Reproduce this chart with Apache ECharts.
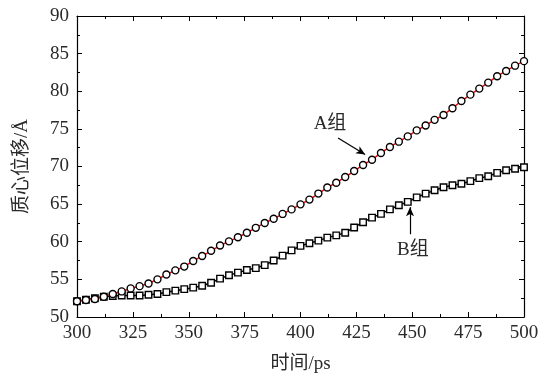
<!DOCTYPE html>
<html>
<head>
<meta charset="utf-8">
<script src="https://cdn.jsdelivr.net/npm/echarts@6/dist/echarts.min.js"></script>
<style>
  html, body { margin: 0; padding: 0; background: #fff; }
  #chart { width: 550px; height: 379px; }
</style>
</head>
<body>
<div id="chart"></div>
<script>
// time in ps, one point every 4 ps
const times = [];
for (let t = 300; t <= 500; t += 4) times.push(t);

const groupA = [
  52.1, 52.25, 52.4, 52.7, 53.05, 53.4, 53.8, 54.1, 54.45, 55.0,
  55.65, 56.2, 56.7, 57.45, 58.1, 58.8, 59.5, 60.05, 60.6, 61.2,
  61.85, 62.5, 63.05, 63.7, 64.3, 64.97, 65.6, 66.4, 67.2, 67.85,
  68.6, 69.4, 70.2, 70.9, 71.8, 72.6, 73.3, 74.0, 74.8, 75.45,
  76.2, 76.85, 77.75, 78.7, 79.55, 80.35, 81.15, 82.0, 82.7, 83.4,
  84.0
];
const groupB = [
  52.1, 52.3, 52.5, 52.7, 52.8, 52.85, 52.85, 52.85, 52.95, 53.05,
  53.3, 53.5, 53.7, 53.9, 54.15, 54.55, 55.1, 55.55, 55.9, 56.25,
  56.5, 56.9, 57.5, 58.15, 58.85, 59.45, 59.8, 60.15, 60.55, 60.85,
  61.2, 61.9, 62.6, 63.2, 63.7, 64.3, 64.85, 65.3, 65.9, 66.4,
  66.85, 67.25, 67.5, 67.7, 68.05, 68.45, 68.7, 69.15, 69.5, 69.7,
  69.9
];

const textColor = '#2a2a2a';
const fontFamily = '"Liberation Serif", "DejaVu Serif", "Noto Sans CJK SC", serif';
const fontSize = 19;

const chart = echarts.init(document.getElementById('chart'));

const frameAxis = {
  axisLine: { lineStyle: { color: '#000', width: 1.2 } },
  axisTick: { inside: true, length: 5, lineStyle: { color: '#000' } },
  minorTick: { show: true, splitNumber: 2, length: 3, lineStyle: { color: '#000' } },
  splitLine: { show: false }
};

const option = {
  animation: false,
  textStyle: { fontFamily: fontFamily },
  grid: { left: 77, right: 26, top: 16, bottom: 61 },
  xAxis: [
    Object.assign({}, frameAxis, {
      type: 'value', min: 300, max: 500, interval: 25, position: 'bottom',
      axisLabel: { color: textColor, fontSize: fontSize, margin: 7, fontFamily: fontFamily },
      name: '时间/ps', nameLocation: 'middle', nameGap: 38,
      nameTextStyle: { color: textColor, fontSize: fontSize, fontFamily: fontFamily }
    }),
    Object.assign({}, frameAxis, {
      type: 'value', min: 300, max: 500, interval: 25, position: 'top',
      axisLabel: { show: false }
    })
  ],
  yAxis: [
    Object.assign({}, frameAxis, {
      type: 'value', min: 50, max: 90, interval: 5, position: 'left',
      axisLabel: { color: textColor, fontSize: fontSize, margin: 8, fontFamily: fontFamily },
      name: '质心位移/Å', nameLocation: 'middle', nameGap: 45,
      nameTextStyle: { color: textColor, fontSize: fontSize, fontFamily: fontFamily }
    }),
    Object.assign({}, frameAxis, {
      type: 'value', min: 50, max: 90, interval: 5, position: 'right',
      axisLabel: { show: false }
    })
  ],
  series: [
    {
      name: 'A组',
      type: 'line',
      data: times.map((t, i) => [t, groupA[i]]),
      symbol: 'circle',
      symbolSize: 7,
      lineStyle: { color: '#ff0000', width: 1.5 },
      itemStyle: { color: '#fff', borderColor: '#000', borderWidth: 1.4 },
      z: 3,
      markLine: {
        silent: true,
        symbol: ['none', 'arrow'],
        symbolSize: [6, 9],
        label: { show: false },
        lineStyle: { color: '#000', width: 1.2, type: 'solid' },
        data: [[{ coord: [416.8, 73.8] }, { coord: [428.9, 71.6] }]]
      },
      markPoint: {
        silent: true,
        symbol: 'circle',
        symbolSize: 1,
        itemStyle: { color: 'rgba(0,0,0,0)' },
        label: { show: true, position: 'inside', color: textColor, fontSize: fontSize, fontFamily: fontFamily },
        data: [{ coord: [413.2, 75.6], value: 'A组' }]
      }
    },
    {
      name: 'B组',
      type: 'line',
      data: times.map((t, i) => [t, groupB[i]]),
      symbol: 'rect',
      symbolSize: 6.5,
      lineStyle: { color: '#000', width: 1.5 },
      itemStyle: { color: '#fff', borderColor: '#000', borderWidth: 1.4 },
      z: 2,
      markLine: {
        silent: true,
        symbol: ['none', 'arrow'],
        symbolSize: [6, 9],
        label: { show: false },
        lineStyle: { color: '#000', width: 1.2, type: 'solid' },
        data: [[{ coord: [449, 61.0] }, { coord: [449, 64.6] }]]
      },
      markPoint: {
        silent: true,
        symbol: 'circle',
        symbolSize: 1,
        itemStyle: { color: 'rgba(0,0,0,0)' },
        label: { show: true, position: 'inside', color: textColor, fontSize: fontSize, fontFamily: fontFamily },
        data: [{ coord: [450.3, 58.9], value: 'B组' }]
      }
    }
  ]
};

chart.setOption(option);
</script>
</body>
</html>
